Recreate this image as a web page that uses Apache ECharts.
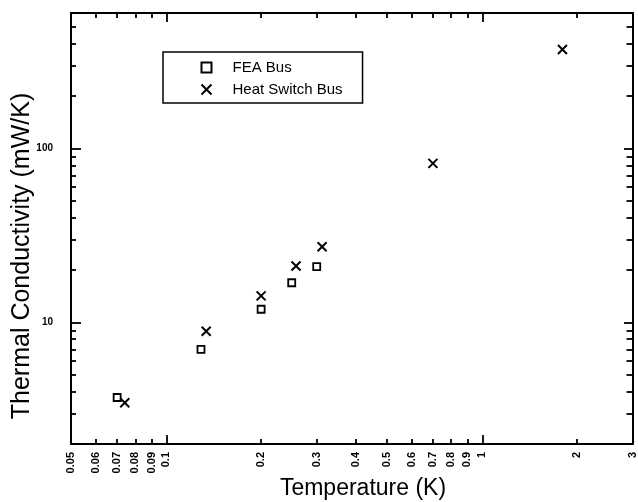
<!DOCTYPE html>
<html>
<head>
<meta charset="utf-8">
<script src="https://cdn.jsdelivr.net/npm/echarts@6/dist/echarts.min.js"></script>
<style>
html, body { margin: 0; padding: 0; background: #fff; }
#chart { width: 638px; height: 502px; }
</style>
</head>
<body>
<div id="chart"></div>
<script>
// data
var feaTemp = [0.07, 0.129, 0.2, 0.25, 0.3];
var feaCond = [3.7, 7.0, 11.9, 16.9, 20.9];
var hsTemp = [0.074, 0.134, 0.2, 0.258, 0.312, 0.70, 1.8];
var hsCond = [3.45, 8.9, 14.2, 21.1, 27.2, 82, 370];

// tick labels and tick marks
var xLabels = [0.05, 0.06, 0.07, 0.08, 0.09, 0.1, 0.2, 0.3, 0.4, 0.5, 0.6, 0.7, 0.8, 0.9, 1, 2, 3];
var xMinorTicks = [0.06, 0.07, 0.08, 0.09, 0.2, 0.3, 0.4, 0.5, 0.6, 0.7, 0.8, 0.9, 2];
var xMajorTicks = [0.1, 1];
var yLabels = [10, 100];
var yMinorTicks = [3, 4, 5, 6, 7, 8, 9, 20, 30, 40, 50, 60, 70, 80, 90, 200, 300, 400, 500];
var yMajorTicks = [10, 100];

function pairs(xs, ys) {
    var out = [];
    for (var i = 0; i < xs.length; i++) out.push([xs[i], ys[i]]);
    return out;
}

function fmt(v) {
    return String(+v.toPrecision(3));
}

var chart = echarts.init(document.getElementById('chart'));
var font = '"Liberation Sans", Arial, sans-serif';
var gridBox = { left: 71, right: 4, top: 13, bottom: 58 };
var line = { show: true, lineStyle: { color: '#000', width: 2 } };
var noLine = { show: false };

function xAx(grid, pos, ticks, len, labels, showLine) {
    return {
        type: 'log', gridIndex: grid, position: pos, min: 0.05, max: 3,
        axisLine: showLine ? line : noLine,
        axisTick: { inside: true, length: len, customValues: ticks, lineStyle: { color: '#000', width: 1.8 } },
        axisLabel: labels ? {
            customValues: labels, rotate: 90, margin: 8, formatter: fmt,
            fontSize: 11, fontWeight: 'bold', color: '#000', fontFamily: font
        } : { show: false },
        splitLine: { show: false }
    };
}

function yAx(grid, pos, ticks, len, labels, showLine) {
    return {
        type: 'log', gridIndex: grid, position: pos, min: 2, max: 600,
        axisLine: showLine ? line : noLine,
        axisTick: { inside: true, length: len, customValues: ticks, lineStyle: { color: '#000', width: 1.8 } },
        axisLabel: labels ? {
            customValues: labels, margin: 18, formatter: fmt,
            fontSize: 10, fontWeight: 'bold', color: '#000', fontFamily: font
        } : { show: false },
        splitLine: { show: false }
    };
}

var option = {
    animation: false,
    backgroundColor: '#fff',
    grid: [
        Object.assign({}, gridBox),
        Object.assign({}, gridBox)
    ],
    xAxis: [
        xAx(0, 'bottom', xMinorTicks, 5, xLabels, true),
        xAx(0, 'top', xMinorTicks, 5, null, true),
        xAx(1, 'bottom', xMajorTicks, 9, null, false),
        xAx(1, 'top', xMajorTicks, 9, null, false)
    ],
    yAxis: [
        yAx(0, 'left', yMinorTicks, 5, yLabels, true),
        yAx(0, 'right', yMinorTicks, 6, null, true),
        yAx(1, 'left', yMajorTicks, 10, null, false),
        yAx(1, 'right', yMajorTicks, 10, null, false)
    ],
    legend: {
        orient: 'vertical', left: 163, top: 52,
        padding: [8, 20, 6, 36], itemGap: 7, itemWidth: 10, itemHeight: 10,
        borderColor: '#000', borderWidth: 1.5,
        textStyle: { fontSize: 15, fontFamily: font, color: '#000', padding: [0, 0, 0, 16] },
        data: ['FEA Bus', 'Heat Switch Bus']
    },
    graphic: [
        {
            type: 'text', x: 22, y: 256, rotation: Math.PI / 2,
            style: { text: 'Thermal Conductivity (mW/K)', font: '25px ' + font, fill: '#000', align: 'center', verticalAlign: 'middle' }
        },
        {
            type: 'text', x: 363, y: 489,
            style: { text: 'Temperature (K)', font: '23px ' + font, fill: '#000', align: 'center', verticalAlign: 'middle' }
        }
    ],
    series: [
        {
            name: 'FEA Bus', type: 'scatter', xAxisIndex: 0, yAxisIndex: 0,
            symbol: 'rect', symbolSize: 7,
            itemStyle: { color: 'none', borderColor: '#000', borderWidth: 1.8, opacity: 1 },
            data: pairs(feaTemp, feaCond)
        },
        {
            name: 'Heat Switch Bus', type: 'scatter', xAxisIndex: 0, yAxisIndex: 0,
            symbol: 'path://M0,0L10,10M10,0L0,10', symbolSize: 9,
            itemStyle: { color: 'none', borderColor: '#000', borderWidth: 2, opacity: 1 },
            data: pairs(hsTemp, hsCond)
        }
    ]
};

chart.setOption(option);
</script>
</body>
</html>
